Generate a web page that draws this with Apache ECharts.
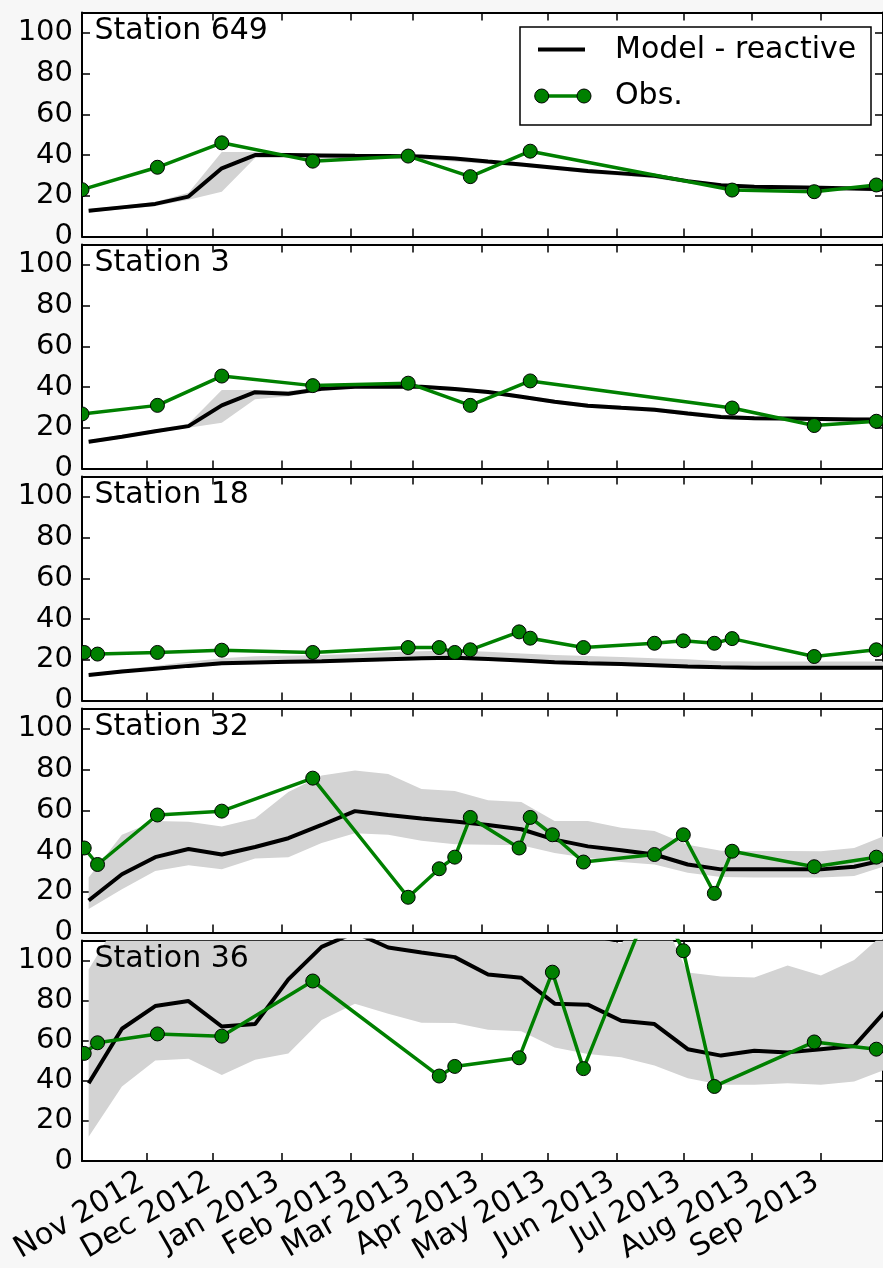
<!DOCTYPE html>
<html>
<head>
<meta charset="utf-8">
<script src="https://cdn.jsdelivr.net/npm/echarts@6/dist/echarts.min.js"></script>
<style>
  html, body { margin: 0; padding: 0; background: #f7f7f7; }
  #chart { width: 883px; height: 1268px; }
</style>
</head>
<body>
<div id="chart"></div>
<script>
// ---- data -------------------------------------------------------------
const stationNames = ['Station 649', 'Station 3', 'Station 18', 'Station 32', 'Station 36'];

// month ticks along the time axis
const monthTickDates = ['2012-11-01', '2012-12-01', '2013-01-01', '2013-02-01', '2013-03-01',
  '2013-04-01', '2013-05-01', '2013-06-01', '2013-07-01', '2013-08-01', '2013-09-01'];
const monthTickLabels = ['Nov 2012', 'Dec 2012', 'Jan 2013', 'Feb 2013', 'Mar 2013',
  'Apr 2013', 'May 2013', 'Jun 2013', 'Jul 2013', 'Aug 2013', 'Sep 2013'];
const yTickValues = [0, 20, 40, 60, 80, 100];

// model output dates (every 15 days)
const modelDates = ['2012-10-06', '2012-10-21', '2012-11-05', '2012-11-20', '2012-12-05',
  '2012-12-20', '2013-01-04', '2013-01-19', '2013-02-03', '2013-02-18', '2013-03-05',
  '2013-03-20', '2013-04-04', '2013-04-19', '2013-05-04', '2013-05-19', '2013-06-03',
  '2013-06-18', '2013-07-03', '2013-07-18', '2013-08-02', '2013-08-17', '2013-09-01',
  '2013-09-16', '2013-10-01'];

// Station 649
const model649 = [12.6, 14.3, 16.0, 19.6, 33.5, 40.0, 40.0, 39.8, 39.6, 39.5, 39.3, 38.3, 36.8,
  35.4, 33.8, 32.2, 31.0, 29.8, 27.2, 25.2, 24.4, 24.2, 24.0, 23.6, 23.1];
const upper649 = [13.4, 15.2, 17.0, 21.5, 41.5, 41.5, 41.0, 40.5, 40.3, 40.2, 40.0, 38.8, 37.6,
  36.2, 34.6, 33.0, 31.8, 30.6, 28.0, 26.0, 25.2, 25.0, 24.8, 24.6, 24.4];
const lower649 = [11.8, 13.4, 15.0, 18.0, 22.0, 38.5, 38.5, 38.2, 38.0, 38.0, 37.8, 36.8, 35.6,
  34.2, 32.6, 31.0, 29.8, 28.6, 26.0, 24.0, 23.2, 23.0, 22.8, 22.5, 22.0];
const obsDates649 = ['2012-10-03', '2012-11-06', '2012-12-05', '2013-01-15', '2013-02-27',
  '2013-03-27', '2013-04-23', '2013-07-23', '2013-08-29', '2013-09-26'];
const obs649 = [23.0, 34.0, 46.0, 37.0, 39.5, 29.4, 41.9, 22.8, 22.0, 25.3];

// Station 3
const model3 = [13.1, 15.6, 18.3, 20.8, 31.0, 37.5, 36.7, 39.1, 40.2, 40.2, 40.2, 39.0, 37.6,
  35.2, 32.8, 30.8, 29.8, 28.9, 27.0, 25.3, 24.7, 24.5, 24.3, 24.1, 24.0];
const upper3 = [13.9, 16.5, 19.2, 22.0, 38.5, 38.5, 38.0, 40.0, 41.0, 41.0, 41.0, 40.0, 38.6,
  36.2, 33.8, 31.8, 30.8, 29.9, 28.2, 26.4, 25.7, 25.5, 25.3, 25.1, 25.0];
const lower3 = [12.3, 14.7, 17.4, 20.0, 22.5, 34.0, 35.5, 38.0, 39.4, 39.4, 39.4, 38.0, 36.6,
  34.2, 31.8, 29.8, 28.8, 27.9, 26.0, 24.3, 23.7, 23.5, 23.3, 23.1, 23.0];
const obsDates3 = ['2012-10-03', '2012-11-06', '2012-12-05', '2013-01-15', '2013-02-27',
  '2013-03-27', '2013-04-23', '2013-07-23', '2013-08-29', '2013-09-26'];
const obs3 = [26.8, 31.0, 45.4, 40.7, 41.9, 31.0, 43.0, 29.7, 21.1, 23.2];

// Station 18
const model18 = [12.5, 14.2, 15.6, 17.0, 18.3, 18.7, 19.0, 19.3, 19.8, 20.3, 20.7, 21.0, 20.4,
  19.6, 18.8, 18.3, 17.9, 17.3, 16.7, 16.3, 16.1, 16.1, 16.1, 16.1, 16.1];
const upper18 = [13.0, 15.2, 17.0, 19.0, 20.8, 21.7, 22.0, 22.3, 22.8, 23.8, 24.2, 24.5, 24.0,
  23.1, 22.3, 21.8, 21.4, 20.8, 20.2, 19.3, 19.1, 19.1, 19.1, 19.1, 19.1];
const lower18 = [11.8, 13.4, 14.8, 16.2, 17.4, 17.8, 18.1, 18.4, 18.9, 19.4, 19.8, 20.1, 19.5,
  18.7, 17.9, 17.4, 17.0, 16.4, 15.8, 15.4, 15.2, 15.2, 15.2, 15.2, 15.2];
const obsDates18 = ['2012-10-04', '2012-10-10', '2012-11-06', '2012-12-05', '2013-01-15',
  '2013-02-27', '2013-03-13', '2013-03-20', '2013-03-27', '2013-04-18', '2013-04-23',
  '2013-05-17', '2013-06-18', '2013-07-01', '2013-07-15', '2013-07-23', '2013-08-29',
  '2013-09-26'];
const obs18 = [23.6, 22.8, 23.6, 24.7, 23.6, 26.0, 26.0, 23.6, 24.9, 33.7, 30.6, 26.0, 28.1,
  29.3, 28.1, 30.4, 21.6, 24.9];

// Station 32
const model32 = [15.7, 28.6, 37.0, 41.0, 38.3, 42.0, 46.3, 52.8, 59.6, 57.7, 56.0, 54.5, 52.8,
  50.7, 45.6, 42.3, 40.4, 38.3, 33.4, 31.0, 31.0, 31.0, 31.0, 32.3, 36.0];
const upper32 = [27.0, 48.0, 54.8, 54.4, 52.0, 56.0, 69.0, 77.1, 79.5, 77.8, 70.5, 69.5, 64.9,
  64.1, 54.8, 54.8, 51.5, 49.9, 43.1, 40.2, 40.0, 40.0, 39.9, 41.5, 48.0];
const lower32 = [11.6, 21.3, 30.2, 33.0, 31.0, 36.4, 37.0, 43.9, 48.8, 48.0, 45.0, 43.3, 43.1,
  42.8, 39.1, 36.6, 34.6, 33.4, 29.4, 27.3, 27.0, 27.0, 27.0, 27.8, 33.0];
const obsDates32 = ['2012-10-04', '2012-10-10', '2012-11-06', '2012-12-05', '2013-01-15',
  '2013-02-27', '2013-03-13', '2013-03-20', '2013-03-27', '2013-04-18', '2013-04-23',
  '2013-05-03', '2013-05-17', '2013-06-18', '2013-07-01', '2013-07-15', '2013-07-23',
  '2013-08-29', '2013-09-26'];
const obs32 = [41.5, 33.4, 57.7, 59.6, 75.8, 17.3, 31.3, 37.0, 56.5, 41.5, 56.5, 48.0, 34.6,
  38.3, 48.0, 19.2, 39.9, 32.3, 37.0];

// Station 36
const model36 = [38.8, 66.0, 77.3, 79.8, 67.1, 68.3, 90.6, 106.8, 114.0, 106.5, 104.0, 101.7,
  93.0, 91.4, 78.5, 78.0, 70.0, 68.3, 55.8, 52.6, 55.0, 54.2, 55.8, 57.4, 76.0];
const upper36 = [95.5, 123, 130, 130, 125, 125, 130, 140, 145, 140, 135, 130, 125, 120, 115,
  112, 108.5, 130, 94.0, 92.0, 91.5, 97.5, 92.5, 100.3, 115];
const lower36 = [12.1, 37.2, 50.2, 51.0, 42.9, 50.5, 53.7, 70.4, 78.5, 73.5, 69.0, 68.8, 65.5,
  64.7, 56.6, 53.4, 51.8, 47.7, 41.3, 38.0, 38.0, 38.8, 38.0, 39.7, 46.0];
const obsDates36 = ['2012-10-04', '2012-10-10', '2012-11-06', '2012-12-05', '2013-01-15',
  '2013-03-13', '2013-03-20', '2013-04-18', '2013-05-03', '2013-05-17', '2013-06-18',
  '2013-07-01', '2013-07-15', '2013-08-29', '2013-09-26'];
const obs36 = [53.7, 59.0, 63.4, 62.3, 89.8, 42.4, 47.2, 51.5, 94.2, 46.1, 134, 104.9, 37.2,
  59.4, 55.8];

const legendLabels = ['Model - reactive', 'Obs.'];

// ---- helpers ----------------------------------------------------------
function ts(s) {
  const p = s.split('-').map(Number);
  return Date.UTC(p[0], p[1] - 1, p[2]);
}
const modelTs = modelDates.map(ts);
const monthTickTs = monthTickDates.map(ts);
const xMin = ts('2012-10-03');
const xMax = ts('2013-09-29');

const panels = [
  { model: model649, upper: upper649, lower: lower649, obsDates: obsDates649, obs: obs649 },
  { model: model3, upper: upper3, lower: lower3, obsDates: obsDates3, obs: obs3 },
  { model: model18, upper: upper18, lower: lower18, obsDates: obsDates18, obs: obs18 },
  { model: model32, upper: upper32, lower: lower32, obsDates: obsDates32, obs: obs32 },
  { model: model36, upper: upper36, lower: lower36, obsDates: obsDates36, obs: obs36 }
];

// ---- layout -----------------------------------------------------------
const FONT = "'DejaVu Sans', 'Bitstream Vera Sans', sans-serif";
const GREEN = '#008000';
const BAND = '#d3d3d3';
const gridLeft = 82, gridWidth = 803, gridHeight = 224, firstTop = 12.5, step = 232;

const grids = [], xAxes = [], yAxes = [], series = [], graphics = [];

function clipTo(cs) {
  return { type: 'rect', shape: { x: cs.x, y: cs.y, width: cs.width, height: cs.height } };
}

panels.forEach(function (p, i) {
  const top = firstTop + step * i;
  grids.push({
    left: gridLeft, top: top, width: gridWidth, height: gridHeight,
    show: true, backgroundColor: '#ffffff', borderWidth: 0
  });

  const tickStyle = { color: '#000', width: 1.5 };
  const spine = { show: true, onZero: false, lineStyle: { color: '#000', width: 2 } };

  // bottom + top time axes
  ['bottom', 'top'].forEach(function (pos) {
    const withLabels = (pos === 'bottom' && i === panels.length - 1);
    xAxes.push({
      gridIndex: i, type: 'value', position: pos, min: xMin, max: xMax,
      axisLine: spine,
      axisTick: { show: true, inside: true, length: 8, customValues: monthTickTs, lineStyle: tickStyle },
      axisLabel: {
        show: withLabels, customValues: monthTickTs, rotate: 30, margin: 16,
        padding: [0, 5, 0, 0],
        fontFamily: FONT, fontSize: 30, color: '#000',
        formatter: function (v) {
          const k = monthTickTs.indexOf(v);
          return k >= 0 ? monthTickLabels[k] : '';
        }
      },
      splitLine: { show: false }
    });
  });

  // left + right value axes
  ['left', 'right'].forEach(function (pos) {
    yAxes.push({
      gridIndex: i, type: 'value', position: pos, min: 0, max: 110,
      axisLine: spine,
      axisTick: { show: true, inside: true, length: 8, customValues: yTickValues, lineStyle: tickStyle },
      axisLabel: {
        show: pos === 'left', customValues: yTickValues, margin: 9,
        fontFamily: FONT, fontSize: 29, color: '#000'
      },
      splitLine: { show: false }
    });
  });

  const xi = 2 * i, yi = 2 * i;
  const obsData = p.obsDates.map(function (d, j) { return [ts(d), p.obs[j]]; });

  // model spread (shaded band between lower and upper)
  series.push({
    type: 'custom', xAxisIndex: xi, yAxisIndex: yi, clip: true, z: 1, silent: true,
    data: modelTs.map(function (t, j) { return [t, p.lower[j], p.upper[j]]; }),
    encode: { x: 0, y: [1, 2] },
    renderItem: function (params, api) {
      if (params.dataIndex !== 0) return null;
      const pts = [];
      for (let j = 0; j < modelTs.length; j++) pts.push(api.coord([modelTs[j], p.upper[j]]));
      for (let j = modelTs.length - 1; j >= 0; j--) pts.push(api.coord([modelTs[j], p.lower[j]]));
      return {
        type: 'polygon',
        shape: { points: pts },
        style: { fill: BAND, stroke: null },
        clipPath: clipTo(params.coordSys)
      };
    }
  });

  // model line
  series.push({
    type: 'line', name: legendLabels[0], xAxisIndex: xi, yAxisIndex: yi, z: 3,
    data: modelTs.map(function (t, j) { return [t, p.model[j]]; }),
    symbol: 'none', clip: true,
    lineStyle: { color: '#000', width: 4 }
  });

  // observations: connecting line
  series.push({
    type: 'line', name: legendLabels[1], xAxisIndex: xi, yAxisIndex: yi, z: 4,
    data: obsData, symbol: 'none', clip: true,
    lineStyle: { color: GREEN, width: 3.5 }
  });

  // observations: circle markers, clipped at the panel frame
  series.push({
    type: 'custom', xAxisIndex: xi, yAxisIndex: yi, z: 5, silent: true,
    data: obsData, encode: { x: 0, y: 1 },
    renderItem: function (params, api) {
      const c = api.coord([api.value(0), api.value(1)]);
      return {
        type: 'circle',
        shape: { cx: c[0], cy: c[1], r: 7 },
        style: { fill: GREEN, stroke: '#000', lineWidth: 1 },
        clipPath: clipTo(params.coordSys)
      };
    }
  });

  // station name inside each panel
  graphics.push({
    type: 'text', x: 94.5, y: top + 19, z: 10,
    style: { text: stationNames[i], font: '30px ' + FONT, fill: '#000', textVerticalAlign: 'middle' }
  });
});

// legend box in the top panel
graphics.push({
  type: 'group', z: 20,
  children: [
    { type: 'rect', shape: { x: 520, y: 27, width: 351, height: 98 },
      style: { fill: '#fff', stroke: '#000', lineWidth: 1.5 } },
    { type: 'line', shape: { x1: 538, y1: 49.5, x2: 585, y2: 49.5 },
      style: { stroke: '#000', lineWidth: 4 } },
    { type: 'text', x: 615, y: 50,
      style: { text: legendLabels[0], font: '30px ' + FONT, fill: '#000', textVerticalAlign: 'middle' } },
    { type: 'line', shape: { x1: 541.7, y1: 96, x2: 584, y2: 96 },
      style: { stroke: GREEN, lineWidth: 3.5 } },
    { type: 'circle', shape: { cx: 541.7, cy: 96, r: 7 },
      style: { fill: GREEN, stroke: '#000', lineWidth: 1 } },
    { type: 'circle', shape: { cx: 584, cy: 96, r: 7 },
      style: { fill: GREEN, stroke: '#000', lineWidth: 1 } },
    { type: 'text', x: 615, y: 96,
      style: { text: legendLabels[1], font: '30px ' + FONT, fill: '#000', textVerticalAlign: 'middle' } }
  ]
});

const chart = echarts.init(document.getElementById('chart'), null, { renderer: 'canvas' });
chart.setOption({
  animation: false,
  backgroundColor: '#f7f7f7',
  grid: grids,
  xAxis: xAxes,
  yAxis: yAxes,
  series: series,
  graphic: graphics
});
</script>
</body>
</html>
